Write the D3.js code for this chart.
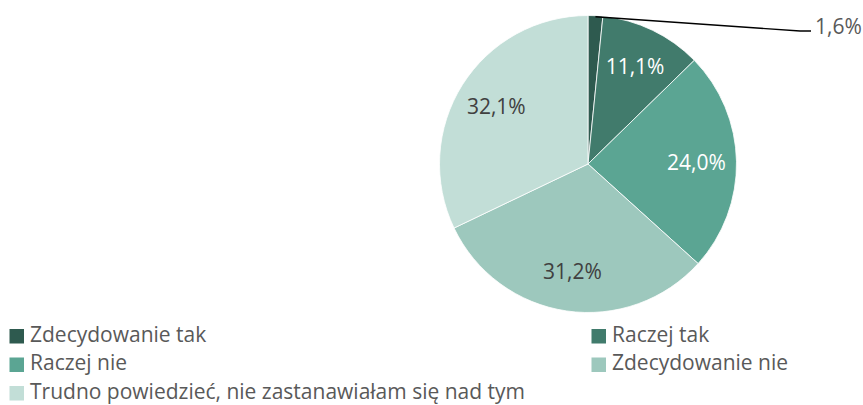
<!DOCTYPE html>
<html><head><meta charset="utf-8">
<script src="https://cdn.jsdelivr.net/npm/d3@7"></script>
<style>body{margin:0;background:#fff}svg{display:block}</style>
</head><body>
<svg id="c" width="863" height="405"></svg>
<script>
const categories = ["Zdecydowanie tak","Raczej tak","Raczej nie","Zdecydowanie nie","Trudno powiedzieć, nie zastanawiałam się nad tym"];
const values = [1.6, 11.1, 24.0, 31.2, 32.1];
const labels = ["1,6%","11,1%","24,0%","31,2%","32,1%"];
const colors = ["#2E5A4F","#417B6C","#5BA593","#9DC8BD","#C2DED7"];
const labelColors = ["#595959","#ffffff","#ffffff","#404040","#404040"];

const svg = d3.select("#c");
const cx = 588, cy = 164, r = 148.5;
const font = "'Open Sans', sans-serif";
const pie = d3.pie().sort(null).value(d => d)(values);
const arc = d3.arc().innerRadius(0).outerRadius(r);
const labelArc = d3.arc().innerRadius(r*0.73).outerRadius(r*0.73);
const g = svg.append("g").attr("transform", `translate(${cx},${cy})`);
g.selectAll("path").data(pie).join("path")
  .attr("d", arc).attr("fill", (d,i) => colors[i])
  .attr("stroke", "#fff").attr("stroke-width", 0.8);

pie.forEach((d,i) => {
  if (i === 0) return;
  const [x,y] = labelArc.centroid(d);
  g.append("text").attr("x", x).attr("y", y).attr("dy","0.36em")
    .attr("text-anchor","middle").attr("font-family",font).attr("font-size",21)
    .attr("fill", labelColors[i]).text(labels[i]);
});
const d0 = pie[0];
const a0 = (d0.startAngle + d0.endAngle)/2;
const px = Math.sin(a0)*r, py = -Math.cos(a0)*r;
g.append("polyline").attr("points", `${px},${py+1} ${800-cx},${31-cy} ${811-cx},${31-cy}`)
  .attr("fill","none").attr("stroke","#000").attr("stroke-width",1.4);
svg.append("text").attr("x", 815).attr("y", 26).attr("dy","0.36em")
  .attr("font-family",font).attr("font-size",21).attr("fill",labelColors[0]).text(labels[0]);

const legPos = [[9.5,336],[591.5,336],[9.5,364.5],[591.5,364.5],[9.5,393]];
categories.forEach((c,i) => {
  const [x,y] = legPos[i];
  svg.append("rect").attr("x",x).attr("y",y-7).attr("width",14.5).attr("height",14.5).attr("fill",colors[i]);
  svg.append("text").attr("x",x+20.5).attr("y",y+5.5)
    .attr("font-family",font).attr("font-size",21).attr("fill","#595959").text(c);
});
</script>
</body></html>
